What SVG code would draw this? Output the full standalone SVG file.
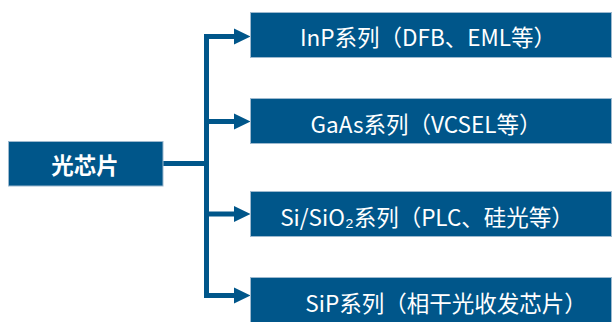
<svg xmlns="http://www.w3.org/2000/svg" width="614" height="322" viewBox="0 0 614 322">
<style>
.box{fill:#00568A;stroke:#9DB9CF;stroke-width:1}
.t{fill:#ffffff;font-family:"Noto Sans CJK SC","Liberation Sans",sans-serif;text-anchor:middle;dominant-baseline:central}
.lbl{font-size:22.5px}
.main{font-size:22.5px;font-weight:bold}
.conn{fill:none;stroke:#00568A;stroke-width:5;stroke-linejoin:miter}
.head{fill:#00568A}
</style>
<rect width="614" height="322" fill="#ffffff"/>
<g id="connectors">
<path class="conn" d="M163 163.5 H206.5 M206.5 36.5 V295.5 M204 36.5 H236 M204 121.5 H236 M204 214 H236 M204 295.5 H236"/>
<polygon class="head" points="234,28.5 250.5,36.5 234,44.5"/>
<polygon class="head" points="234,113.5 250.5,121.5 234,129.5"/>
<polygon class="head" points="234,206 250.5,214 234,222"/>
<polygon class="head" points="234,287.5 250.5,295.5 234,303.5"/>
</g>
<g id="root">
<rect class="box" x="8.5" y="141.5" width="154.5" height="44.5"/>
<text class="t main" x="85" y="163.5">光芯片</text>
</g>
<g id="inp">
<rect class="box" x="250.5" y="12.5" width="361" height="45"/>
<text class="t lbl" x="428" y="36">InP系列（DFB、EML等）</text>
</g>
<g id="gaas">
<rect class="box" x="250.5" y="98.5" width="361" height="45"/>
<text class="t lbl" x="426" y="122.5">GaAs系列（VCSEL等）</text>
</g>
<g id="si">
<rect class="box" x="250.5" y="191.5" width="361" height="45"/>
<text class="t lbl" x="427" y="216">Si/SiO₂系列（PLC、硅光等）</text>
</g>
<g id="sip">
<rect class="box" x="250.5" y="277.5" width="361" height="46"/>
<text class="t lbl" x="446" y="302">SiP系列（相干光收发芯片）</text>
</g>
</svg>
